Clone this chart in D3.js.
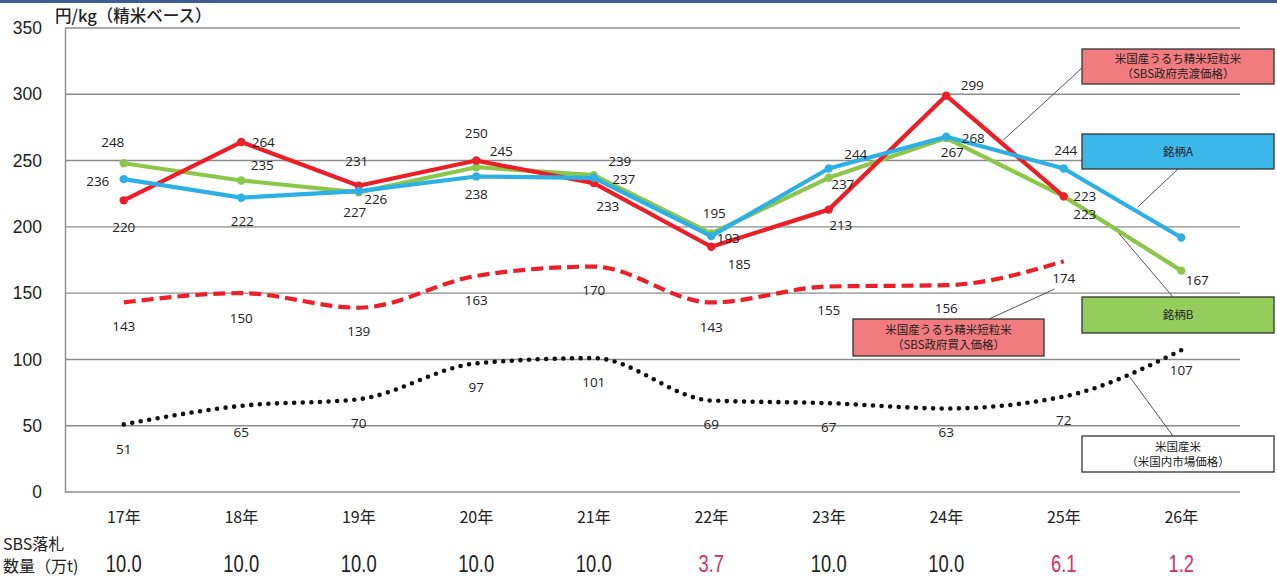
<!DOCTYPE html>
<html>
<head>
<meta charset="utf-8">
<script src="https://cdn.jsdelivr.net/npm/d3@7"></script>
<style>
  html, body { margin: 0; padding: 0; background: #fff; }
  svg { display: block; }
</style>
</head>
<body>
<svg id="chart" width="1277" height="577"></svg>
<script>
// Fiscal years (Heisei)
const years = ["17年", "18年", "19年", "20年", "21年", "22年", "23年", "24年", "25年", "26年"];

// 円/kg, milled-rice basis (null = no value)
const sbsSellPrice = [220, 264, 231, 250, 233, 185, 213, 299, 223, null];   // SBS政府売渡価格
const brandA       = [236, 222, 227, 238, 237, 193, 244, 268, 244, 192];    // 銘柄A
const brandB       = [248, 235, 226, 245, 239, 195, 237, 267, 223, 167];    // 銘柄B
const sbsBuyPrice  = [143, 150, 139, 163, 170, 143, 155, 156, 174, null];   // SBS政府買入価格
const usMarket     = [51, 65, 70, 97, 101, 69, 67, 63, 72, 107];            // 米国内市場価格

// Which points carry a value label
const brandALabelled = [true, true, true, true, true, true, true, true, true, false];

// SBS successful-bid quantity (万t)
const bidVolume = ["10.0", "10.0", "10.0", "10.0", "10.0", "3.7", "10.0", "10.0", "6.1", "1.2"];
const bidShort  = [false, false, false, false, false, true, false, false, true, true];

const yTicks = [0, 50, 100, 150, 200, 250, 300, 350];

// Label offsets (dx, dy) relative to each point
const offSell = [[0, 27], [22, 0], [-2, -24], [0, -27], [14, 23], [28, 18], [12, 16], [26, -10], [21, 0], [0, 0]];
const offA    = [[-26, 2], [1, 24], [-4, 21], [0, 18], [30, 1], [17, 2], [27, -14], [27, 2], [2, -18], [0, 0]];
const offB    = [[-11, -21], [21, -15], [17, 7], [25, -16], [26, -14], [3, -20], [14, 6], [6, 14], [21, 18], [16, 10]];
const offBuy  = [[0, 24], [0, 25], [0, 24], [0, 24], [0, 24], [0, 25], [0, 24], [0, 23], [0, 17], [0, 0]];
const offUS   = [[0, 25], [0, 26], [0, 24], [0, 24], [0, 24], [0, 24], [0, 24], [0, 24], [0, 24], [0, 20]];

const svg = d3.select("#chart");
const W = 1277;
const plot = { left: 65, right: 1240, top: 28, bottom: 492 };

const JP = "'Noto Sans CJK JP', 'Noto Sans', sans-serif";
const NUM = "'Liberation Sans', Arial, sans-serif";

// Header rule
svg.append("rect").attr("x", 0).attr("y", 0).attr("width", W).attr("height", 3).attr("fill", "#3d5f94");

const x = d3.scaleBand().domain(years).range([plot.left, plot.right]).padding(0);
const cx = d => x(d) + x.bandwidth() / 2;
const y = d3.scaleLinear().domain([0, 350]).range([plot.bottom, plot.top]);

// Gridlines
svg.append("g")
  .selectAll("line")
  .data(yTicks)
  .join("line")
  .attr("x1", plot.left).attr("x2", plot.right)
  .attr("y1", d => y(d)).attr("y2", d => y(d))
  .attr("stroke", "#8c8c8c").attr("stroke-width", 1.4);

// Y axis
const yAxis = svg.append("g")
  .attr("transform", `translate(${plot.left},0)`)
  .call(d3.axisLeft(y).tickValues(yTicks).tickSize(0).tickPadding(23));
yAxis.select(".domain").attr("stroke", "#8c8c8c").attr("stroke-width", 1.4);
yAxis.selectAll("text").attr("font-family", NUM).attr("font-size", 17.5).attr("fill", "#222");

// Axis title
svg.append("text")
  .attr("x", 55).attr("y", 22)
  .attr("font-family", JP).attr("font-size", 16.5).attr("font-weight", 500).attr("fill", "#222")
  .text("円/kg（精米ベース）");

// X axis labels
const xAxis = svg.append("g")
  .attr("transform", `translate(0,${plot.bottom})`)
  .call(d3.axisBottom(x).tickSize(0).tickPadding(20));
xAxis.select(".domain").remove();
xAxis.selectAll("text").attr("font-family", JP).attr("font-size", 16).attr("fill", "#222");

// Bid-volume row
svg.append("text").attr("x", 3).attr("y", 550)
  .attr("font-family", JP).attr("font-size", 16).attr("fill", "#222").text("SBS落札");
svg.append("text").attr("x", 3).attr("y", 572)
  .attr("font-family", JP).attr("font-size", 16).attr("fill", "#222").text("数量（万t)");
svg.append("g")
  .selectAll("text")
  .data(years)
  .join("text")
  .attr("transform", d => `translate(${cx(d)},572) scale(0.8,1)`)
  .attr("text-anchor", "middle")
  .attr("font-family", NUM)
  .attr("font-size", 23)
  .attr("fill", (d, i) => bidShort[i] ? "#d92f62" : "#222")
  .text((d, i) => bidVolume[i]);

// Series helpers
const pts = vals => years.map((yr, i) => ({ yr, v: vals[i], i })).filter(p => p.v != null);

function drawLine(vals, color, opts) {
  const line = d3.line()
    .x(p => cx(p.yr))
    .y(p => y(p.v))
    .curve(opts.curve || d3.curveLinear);
  const path = svg.append("path")
    .datum(pts(vals))
    .attr("d", line)
    .attr("fill", "none")
    .attr("stroke", color)
    .attr("stroke-width", opts.width || 4)
    .attr("stroke-linejoin", "round");
  if (opts.dash) path.attr("stroke-dasharray", opts.dash);
  if (opts.cap) path.attr("stroke-linecap", opts.cap);
  if (opts.marker) {
    svg.append("g")
      .selectAll("circle")
      .data(pts(vals))
      .join("circle")
      .attr("cx", p => cx(p.yr)).attr("cy", p => y(p.v))
      .attr("r", 4.2).attr("fill", color);
  }
}

function drawLabels(vals, offs, show) {
  svg.append("g")
    .selectAll("text")
    .data(pts(vals).filter(p => !show || show[p.i]))
    .join("text")
    .attr("x", p => cx(p.yr) + offs[p.i][0])
    .attr("y", p => y(p.v) + offs[p.i][1])
    .attr("dy", "0.35em")
    .attr("text-anchor", "middle")
    .attr("font-family", "'Open Sans', 'Noto Sans', sans-serif")
    .attr("font-size", 13.5)
    .attr("fill", "#222")
    .text(p => p.v);
}

const RED = "#ec1f28", BLUE = "#2db0e6", GREEN = "#8dc74a";

drawLine(usMarket, "#111", { curve: d3.curveMonotoneX, dash: "0 8.6", cap: "round", width: 4.6 });
drawLine(sbsBuyPrice, RED, { curve: d3.curveMonotoneX, dash: "12 6", width: 4.2 });
drawLine(brandB, GREEN, { marker: true, width: 4.2 });
drawLine(sbsSellPrice, RED, { marker: true, width: 4.2 });
drawLine(brandA, BLUE, { marker: true, width: 4.2 });

drawLabels(usMarket, offUS);
drawLabels(sbsBuyPrice, offBuy);
drawLabels(sbsSellPrice, offSell);
drawLabels(brandB, offB);
drawLabels(brandA, offA, brandALabelled);

// Series callouts: box geometry and leader target (category index, value)
const callouts = [
  { lines: ["米国産うるち精米短粒米", "（SBS政府売渡価格）"], fill: "#f27b80", box: [1082, 49, 192, 35], from: [1082, 68], to: [7.48, 265] },
  { lines: ["銘柄A"], fill: "#3db7ea", box: [1082, 134, 192, 35], from: [1178, 169], to: [8.63, 215] },
  { lines: ["銘柄B"], fill: "#95cd5c", box: [1082, 297, 192, 36], from: [1173, 297], to: [8.47, 195] },
  { lines: ["米国産うるち精米短粒米", "（SBS政府買入価格）"], fill: "#f27b80", box: [853, 319, 191, 37], from: [989, 319], to: [7.92, 153] },
  { lines: ["米国産米", "（米国内市場価格）"], fill: "#ffffff", box: [1082, 436, 192, 36], from: [1173, 436], to: [8.56, 87] }
];
const idxX = t => cx(years[0]) + t * x.step();

const cg = svg.append("g");
cg.selectAll("line")
  .data(callouts)
  .join("line")
  .attr("x1", d => d.from[0]).attr("y1", d => d.from[1])
  .attr("x2", d => idxX(d.to[0])).attr("y2", d => y(d.to[1]))
  .attr("stroke", "#555").attr("stroke-width", 1);
const boxes = cg.selectAll("g.box").data(callouts).join("g").attr("class", "box");
boxes.append("rect")
  .attr("x", d => d.box[0]).attr("y", d => d.box[1])
  .attr("width", d => d.box[2]).attr("height", d => d.box[3])
  .attr("fill", d => d.fill).attr("stroke", "#333").attr("stroke-width", 1.3);
boxes.each(function (d) {
  const g = d3.select(this);
  const n = d.lines.length;
  d.lines.forEach((t, k) => {
    g.append("text")
      .attr("x", d.box[0] + d.box[2] / 2)
      .attr("y", d.box[1] + d.box[3] / 2 + (k - (n - 1) / 2) * 15)
      .attr("dy", "0.35em")
      .attr("text-anchor", "middle")
      .attr("font-family", JP).attr("font-size", 11.5).attr("fill", "#222")
      .text(t);
  });
});
</script>
</body>
</html>
